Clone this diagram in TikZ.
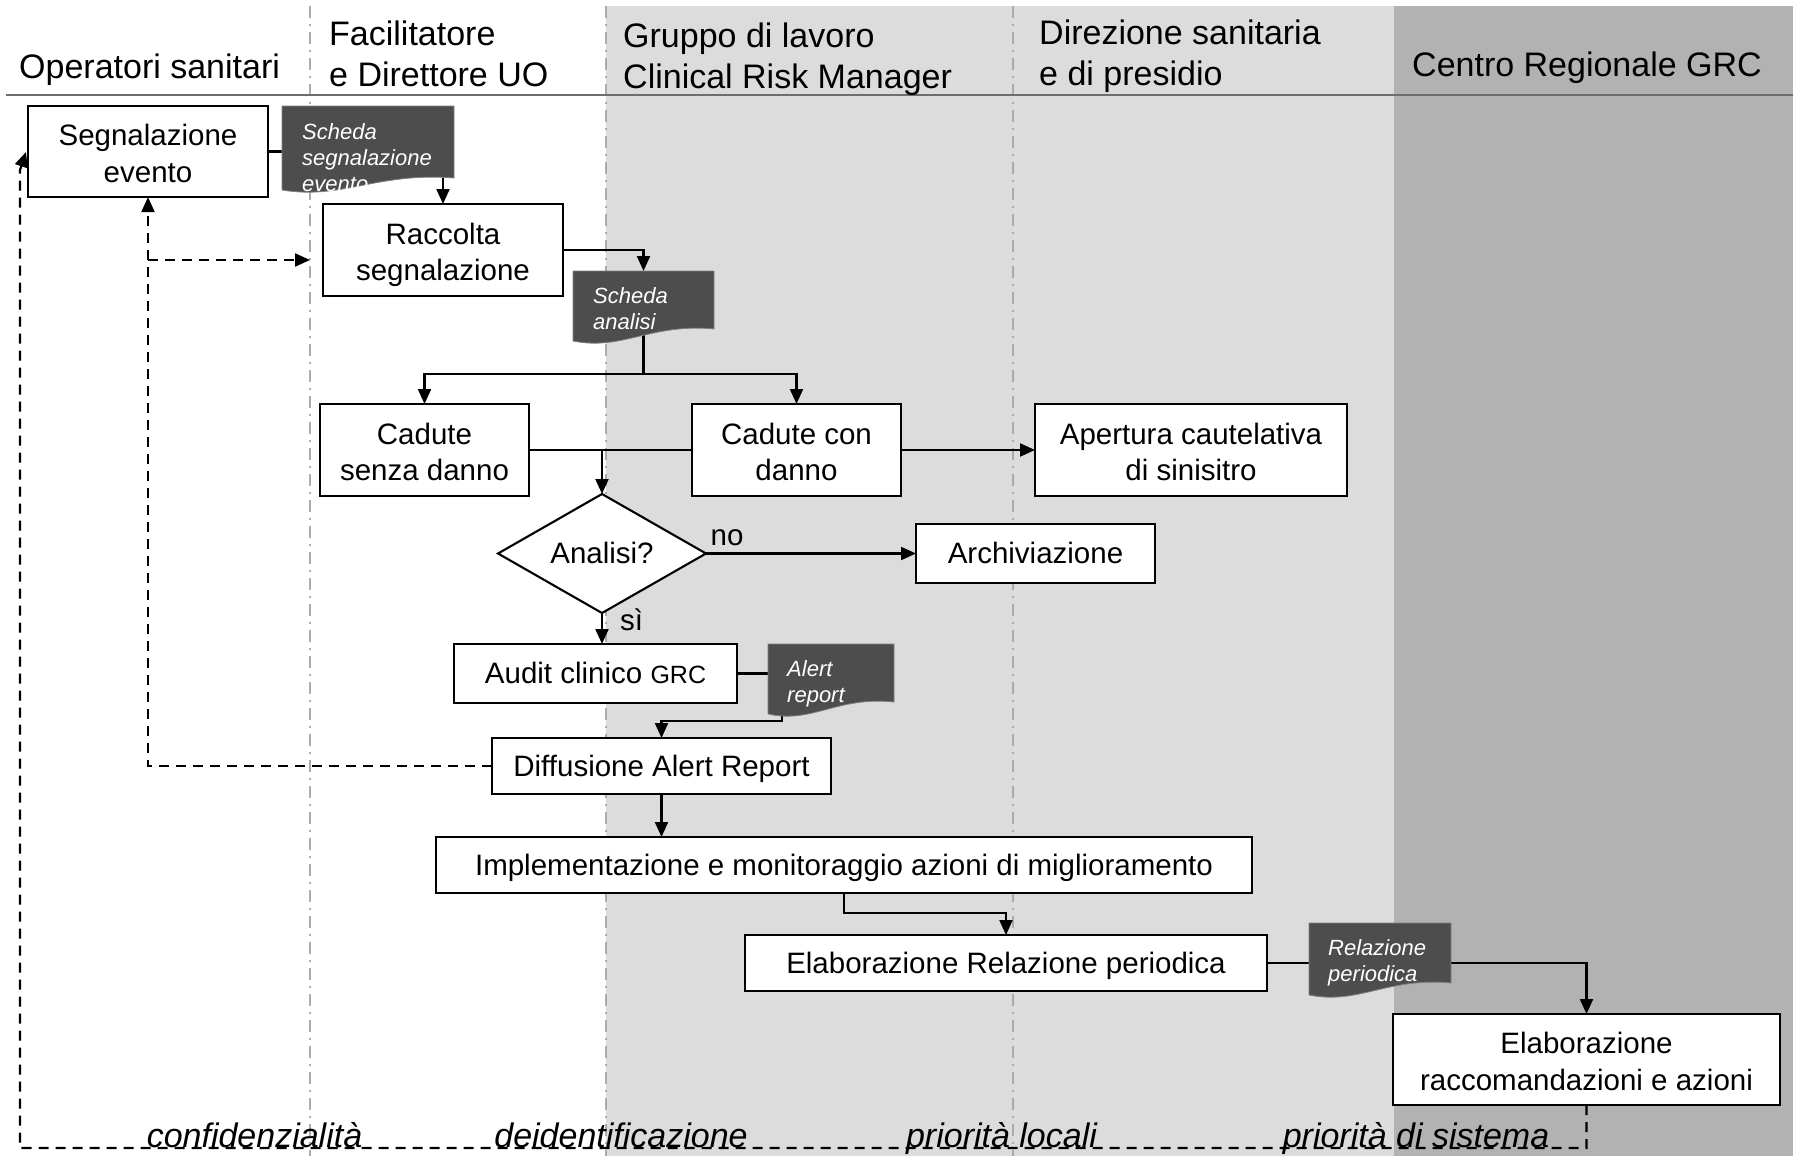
\documentclass[tikz,border=0pt]{standalone}
\usepackage{fontspec}
\setmainfont{Liberation Sans}
\usetikzlibrary{arrows.meta,calc,shapes.geometric}
\definecolor{lgray}{HTML}{DCDCDC}
\definecolor{dgray}{HTML}{B2B2B2}
\definecolor{docgray}{HTML}{4D4D4D}
\definecolor{lanegray}{HTML}{ABABAB}
\definecolor{hdrline}{HTML}{6E6E6E}
\newcommand\myBody{\fontsize{29.5}{36.6}\selectfont}
\newcommand\myHead{\fontsize{34}{41}\selectfont}
\newcommand\myDoc{\itshape\fontsize{22}{26}\selectfont}
\newcommand\myFoot{\itshape\fontsize{34}{40}\selectfont}
\newcommand\mys{\rule[-0.212em]{0pt}{1.117em}}
\newcommand\mysa{\rule[-0.212em]{0pt}{\dimexpr1.117em+4.6pt\relax}}
\newcommand\mydocshape[1]{%
  \filldraw[fill=docgray, draw=gray, line width=0.8pt]
    (#1.north west) -- (#1.north east) -- (#1.south east)
    .. controls ($(#1.south west)!0.55!(#1.south east)+(0,-6)$)
    and ($(#1.south west)!0.35!(#1.south east)+(0,22)$)
    .. ($(#1.south west)+(0,12)$) -- cycle;}
\begin{document}
\begin{tikzpicture}[x=1pt,y=-1pt,
  box/.style={draw=black, line width=2.1pt, fill=white, align=center, inner sep=0pt, outer sep=0pt, font=\myBody,
    execute at begin node=\mys, execute at end node=\mys},
  docbox/.style={inner sep=0pt, outer sep=0pt},
  doctext/.style={text=white, font=\myDoc, align=left, anchor=north west, inner sep=0pt},
  head/.style={font=\myHead, align=left, inner sep=0pt},
  foot/.style={font=\myFoot, inner sep=0pt, anchor=base},
  lbl/.style={font=\myBody, inner sep=0pt},
  lane/.style={lanegray, line width=1.8pt, dash pattern=on 12pt off 6pt on 2pt off 6pt},
  conn/.style={draw=black, line width=2.1pt},
  arr/.style={conn, -{Triangle[length=15pt,width=13pt]}},
  dasharr/.style={conn, dash pattern=on 10pt off 7pt, -{Triangle[length=15pt,width=13pt]}}
]
\useasboundingbox (0,0) rectangle (1793,1156);
\fill[white] (0,0) rectangle (1793,1156);
% lane backgrounds
\fill[lgray] (606,6) rectangle (1394,1156);
\fill[dgray] (1394,6) rectangle (1793,1156);
% lane separators
\draw[lane] (310,6) -- (310,1156);
\draw[lane] (606,6) -- (606,1156);
\draw[lane] (1013,6) -- (1013,1156);
% header line
\draw[hdrline, line width=2.5pt] (6,95) -- (1793,95);

% headers
\node[head, anchor=base west] (h1) at (19,78) {Operatori sanitari};
\node[head, anchor=north west] (h2) at (329,21) {Facilitatore\\e Direttore UO};
\node[head, anchor=north west] (h3) at (623,23) {Gruppo di lavoro\\Clinical Risk Manager};
\node[head, anchor=north west] (h4) at (1039,20) {Direzione sanitaria\\e di presidio};
\node[head, anchor=base west] (h5) at (1412,77) {Centro Regionale GRC};

% process boxes
\node[box, minimum width=240pt, minimum height=91pt] (seg) at (148,151.5) {\mysa Segnalazione\\evento};
\node[box, minimum width=240pt, minimum height=92pt] (racc) at (443,250) {\mysa Raccolta\\segnalazione};
\node[box, minimum width=209pt, minimum height=92pt] (csenza) at (424.5,450) {\mysa Cadute\\senza danno};
\node[box, minimum width=209pt, minimum height=92pt] (ccon) at (796.5,450) {\mysa Cadute con\\danno};
\node[box, minimum width=312pt, minimum height=92pt] (apert) at (1191,450) {\mysa Apertura cautelativa\\di sinisitro};
\node[box, shape=diamond, aspect=1.75, minimum width=208pt, minimum height=119pt, execute at begin node={}, execute at end node={}] (dia) at (602,553.5) {Analisi?};
\node[box, minimum width=239pt, minimum height=59pt] (archiv) at (1035.5,553.5) {Archiviazione};
\node[box, minimum width=283pt, minimum height=59pt] (audit) at (595.5,673.5) {Audit clinico {\fontsize{25}{36}\selectfont GRC}};
\node[box, minimum width=339pt, minimum height=56pt] (diff) at (661.5,766) {Diffusione Alert Report};
\node[box, minimum width=816pt, minimum height=56pt] (impl) at (844,865) {Implementazione e monitoraggio azioni di miglioramento};
\node[box, minimum width=522pt, minimum height=56pt] (elabrel) at (1006,963) {Elaborazione Relazione periodica};
\node[box, minimum width=387pt, minimum height=91pt] (elabrac) at (1586.5,1059.5) {\mysa Elaborazione\\raccomandazioni e azioni};

% document placeholders
\node[docbox, minimum width=172pt, minimum height=72pt] (doc1) at (368,142) {};
\node[docbox, minimum width=141pt, minimum height=58pt] (doc2) at (643.5,300) {};
\node[docbox, minimum width=126pt, minimum height=58pt] (doc3) at (831,673) {};
\node[docbox, minimum width=142pt, minimum height=60pt] (doc4) at (1380,953) {};

% coordinates
\coordinate (split) at (643.5,374);
\coordinate (br) at (148,260);
\coordinate (brend) at (310,260);
\coordinate (loopbl) at (20,1148);
\coordinate (loopup) at (20,170);
\coordinate (loopend) at (26,152);
\coordinate (loopr) at (1586.5,1148);

% solid connectors
\draw[conn] (seg.east) -- (seg.east -| doc1.west);
\draw[arr] (doc1.south -| racc.north) -- (racc.north);
\draw[arr] (racc.east) -| (doc2.north);
\draw[conn] (doc2.south) -- (split);
\draw[arr] (split) -| (csenza.north);
\draw[arr] (split) -| (ccon.north);
\draw[conn] (csenza.east) -- (ccon.west);
\draw[arr] (dia.north |- csenza.east) -- (dia.north);
\draw[arr] (ccon.east) -- (apert.west);
\draw[arr] (dia.east) -- (archiv.west);
\draw[arr] (dia.south) -- (dia.south |- audit.north);
\draw[conn] (audit.east) -- (audit.east -| doc3.west);
\draw[arr] ($(doc3.south west)+(14,0)$) -- ++(0,19) -| (diff.north);
\draw[arr] (diff.south) -- (diff.south |- impl.north);
\draw[arr] (impl.south) -- ++(0,20) -| (elabrel.north);
\draw[conn] (elabrel.east) -- (elabrel.east -| doc4.west);
\draw[arr] (doc4.east |- elabrel.east) -| (elabrac.north);

% dashed connectors
\draw[dasharr] (diff.west) -| (seg.south);
\draw[dasharr] (br) -- (brend);
\draw[dasharr] (elabrac.south) -- (loopr) -- (loopbl) -- (loopup) -- (loopend);

% documents
\mydocshape{doc1}
\mydocshape{doc2}
\mydocshape{doc3}
\mydocshape{doc4}
\node[doctext] (doc1t) at (302,123) {Scheda\\segnalazione\\evento};
\node[doctext] (doc2t) at (593,287) {Scheda\\analisi};
\node[doctext] (doc3t) at (787,660) {Alert\\report};
\node[doctext] (doc4t) at (1328,939) {Relazione\\periodica};

% branch labels
\node[lbl] (lno) at (727,538) {no};
\node[lbl] (lsi) at (631.5,620) {sì};

% footer labels
\node[foot] (f1) at (254.5,1147) {confidenzialità};
\node[foot] (f2) at (621,1147) {deidentificazione};
\node[foot] (f3) at (1001.5,1147) {priorità locali};
\node[foot] (f4) at (1416,1147) {priorità di sistema};
\end{tikzpicture}
\end{document}
